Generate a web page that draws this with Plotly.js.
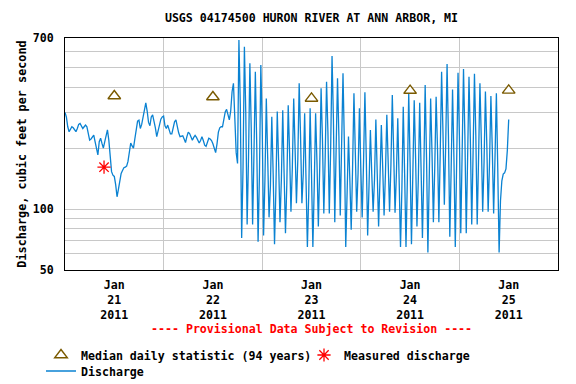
<!DOCTYPE html>
<html>
<head>
<meta charset="utf-8">
<script src="https://cdn.plot.ly/plotly-3.0.1.min.js"></script>
<style>html,body{margin:0;padding:0;background:#fff}#chart{width:576px;height:384px}</style>
</head>
<body>
<div id="chart"></div>
<script>
// ---- data ----
const seriesStart = '2011-01-21 00:00';   // first discharge value
const stepMinutes = 20;                     // spacing between discharge values
const discharge = [
300,285,255,241,248,255,252,245,241,250,
262,265,255,250,255,260,255,235,219,222,
228,232,215,195,185,215,224,211,200,215,
235,246,219,188,153,147,145,132,115,125,
140,150,155,160,161,163,172,192,212,205,
200,222,250,272,275,250,262,283,315,335,
305,268,258,285,292,275,252,228,245,262,
278,285,288,258,250,260,250,235,235,255,
270,276,255,238,228,229,230,222,213,228,
240,236,228,219,226,231,226,220,212,218,
228,218,207,204,214,224,222,218,210,202,
190,210,240,252,255,255,278,302,311,288,
276,305,380,418,280,190,168,
684,330,72,160, 634,300,84,180, 525,250,84,190, 477,210,69,150,
515,260,74,140, 352,180,91,130, 286,150,67,125, 303,170,86,140,
308,150,76,135, 326,190,97,160, 352,200,107,175, 418,230,107,150,
297,140,65,120, 315,150,65,130, 297,170,82,160, 395,220,95,180,
426,240,95,200, 570,280,86,200, 443,230,93,210, 469,210,65,120,
228,140,79,160, 373,190,97,150, 315,160,91,170, 378,180,74,130,
246,150,97,140, 277,150,82,140, 260,160,93,150, 292,170,97,165,
366,190,96,150, 281,140,65,125, 320,150,65,140, 373,170,67,150,
345,180,82,140, 335,160,72,150, 410,180,61,145, 352,190,86,160,
359,200,86,190, 477,240,105,210, 520,230,73,160, 390,180,65,170,
472,230,76,190, 492,230,76,180, 450,220,84,190, 466,230,84,180,
418,220,97,170, 381,210,97,170, 362,200,95,180,
373,160,61,
110,138,149,151,158,195,277
];
const medianDates = ['2011-01-21 12:00','2011-01-22 12:00','2011-01-23 12:00','2011-01-24 12:00','2011-01-25 12:00'];
const medianValues = [362, 358, 352, 385, 386];
const measuredDates = ['2011-01-21 09:30'];
const measuredValues = [161];
const dayTickDates = ['2011-01-21 12:00','2011-01-22 12:00','2011-01-23 12:00','2011-01-24 12:00','2011-01-25 12:00'];
const dayTickLabels = ['Jan<br>21<br>2011','Jan<br>22<br>2011','Jan<br>23<br>2011','Jan<br>24<br>2011','Jan<br>25<br>2011'];
const dayGridDates = ['2011-01-22 00:00','2011-01-23 00:00','2011-01-24 00:00','2011-01-25 00:00'];
const yTickValues = [50, 100, 700];
const yTickLabels = ['50', '100', '700'];
const yGridValues = [60, 70, 80, 90, 200, 300, 400, 500, 600];

// ---- build timestamps ----
function pad(n){return (n<10?'0':'')+n;}
function fmt(ms){const d=new Date(ms);return d.getUTCFullYear()+'-'+pad(d.getUTCMonth()+1)+'-'+pad(d.getUTCDate())+' '+pad(d.getUTCHours())+':'+pad(d.getUTCMinutes());}
const t0 = Date.parse(seriesStart.replace(' ','T')+':00Z');
const times = discharge.map((_,i)=>fmt(t0 + i*stepMinutes*60000));

const FONT = 'DejaVu Sans Mono';
const f = (size,color)=>({family:FONT,size:size,color:color||'#000',weight:'bold'});

const traces = [
  {type:'scatter',mode:'lines',x:times,y:discharge,name:'Discharge',legend:'legend2',
   line:{color:'#0a82d2',width:1.3},hoverinfo:'skip'},
  {type:'scatter',mode:'markers',x:medianDates,y:medianValues,name:'Median daily statistic (94 years)',legend:'legend',
   marker:{symbol:'triangle-up',size:11,color:'#ffffff',line:{color:'#7a5a00',width:1.4}}},
  {type:'scatter',mode:'markers',x:measuredDates,y:measuredValues,name:'Measured discharge',legend:'legend3',
   marker:{symbol:'asterisk-open',size:11,color:'#ff0000',line:{color:'#ff0000',width:1.3}}}
];

const plotLeft = 65, plotW = 493, plotBottom = 270, plotH = 232;
const px2x = p => (p - plotLeft) / plotW;
const px2y = p => (plotBottom - p) / plotH;
const legendFont = f(11.6);
const legendBase = {orientation:'h',xanchor:'left',yanchor:'middle',font:legendFont,bgcolor:'rgba(0,0,0,0)',itemwidth:30};
const layout = {
  width:576,height:384,
  margin:{l:65,r:18,t:38,b:114,autoexpand:false},
  paper_bgcolor:'#fff',plot_bgcolor:'#fff',
  title:{text:'USGS 04174500 HURON RIVER AT ANN ARBOR, MI',font:f(11.6),x:0.5,xref:'paper',xanchor:'center',y:1-18/384,yref:'container',yanchor:'middle'},
  xaxis:{type:'date',range:['2011-01-21 00:00','2011-01-26 00:00'],tickmode:'array',tickvals:dayTickDates,ticktext:dayTickLabels,
    showgrid:false,zeroline:false,showline:true,linecolor:'#000',linewidth:1,mirror:true,ticks:'',tickfont:f(11.6),ticklabelstandoff:4,
    minor:{tickmode:'array',tickvals:dayGridDates,showgrid:true,gridcolor:'#c8c8c8',gridwidth:1,ticks:''}},
  yaxis:{type:'log',range:[Math.log10(50),Math.log10(700)],tickmode:'array',tickvals:yTickValues,ticktext:yTickLabels,
    showgrid:true,gridcolor:'#c8c8c8',gridwidth:1,zeroline:false,showline:true,linecolor:'#000',linewidth:1,mirror:true,ticks:'',
    tickfont:f(11.6),ticklabelstandoff:8,
    title:{text:'Discharge, cubic feet per second',font:f(11.8),standoff:3},
    minor:{tickmode:'array',tickvals:yGridValues,showgrid:true,gridcolor:'#c8c8c8',gridwidth:1,ticks:''}},
  showlegend:true,
  legend:Object.assign({},legendBase,{x:px2x(41),y:px2y(355)}),
  legend3:Object.assign({},legendBase,{x:px2x(304),y:px2y(355)}),
  legend2:Object.assign({},legendBase,{x:px2x(41),y:px2y(371)}),
  annotations:[{text:'---- Provisional Data Subject to Revision ----',xref:'paper',yref:'paper',x:0.5,y:px2y(329),
    xanchor:'center',yanchor:'middle',showarrow:false,font:f(11.6,'#ff0000')}]
};

Plotly.newPlot('chart',traces,layout,{displayModeBar:false,staticPlot:true});
</script>
</body>
</html>
